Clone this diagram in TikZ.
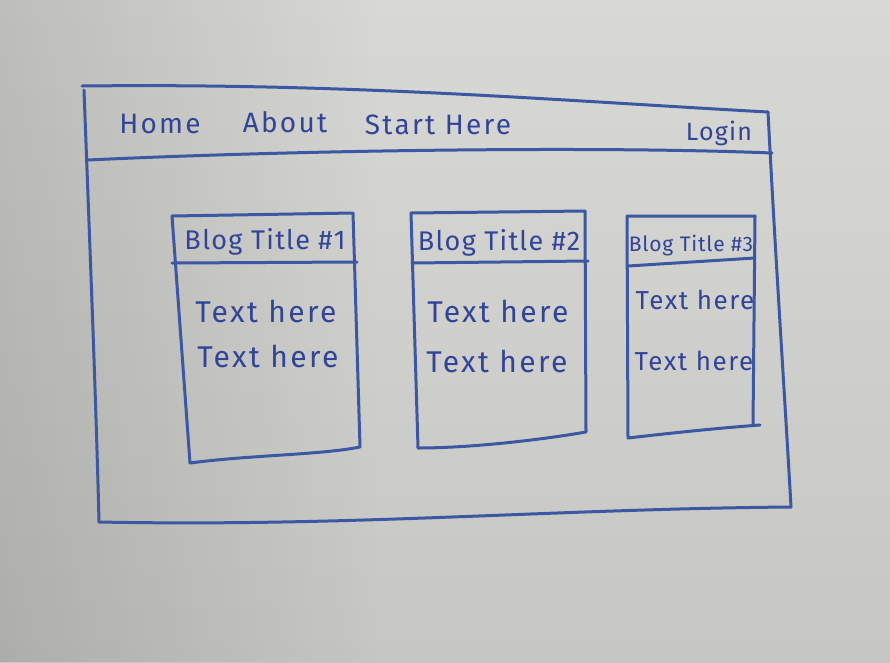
\documentclass[tikz,border=0pt]{standalone}
\usepackage{fontspec}
\setmainfont{Fira Sans}
\usetikzlibrary{fadings}
\definecolor{ink}{HTML}{3C58A4}
\definecolor{inkt}{HTML}{32449A}
\definecolor{bgTop}{HTML}{D8D8D4}
\definecolor{bgMid}{HTML}{E2E2DE}
\definecolor{bgBot}{HTML}{C6C6C2}
\tikzfading[name=fadeleft, left color=transparent!0, right color=transparent!100]
\begin{document}
\begin{tikzpicture}[x=1pt,y=-1pt,
  pen/.style={draw=ink, line width=3pt, line cap=round, line join=round},
  navtext/.style={text=inkt, inner sep=0pt,
    font=\fontsize{28}{30}\selectfont\addfontfeature{LetterSpace=8}},
  cardtitle/.style={text=inkt, inner sep=0pt,
    font=\fontsize{27}{29}\selectfont\addfontfeature{LetterSpace=5}},
  cardtext/.style={text=inkt, inner sep=0pt,
    font=\fontsize{30}{32}\selectfont\addfontfeature{LetterSpace=8}},
  smalltitle/.style={text=inkt, inner sep=0pt,
    font=\fontsize{21}{23}\selectfont\addfontfeature{LetterSpace=4}},
  smalltext/.style={text=inkt, inner sep=0pt,
    font=\fontsize{26}{28}\selectfont\addfontfeature{LetterSpace=6}}]
  % paper background: light band across the upper middle, darker towards the bottom and left
  \useasboundingbox (0,0) rectangle (890,662);
  \shade[top color=bgTop, middle color=bgMid, bottom color=bgBot] (0,0) rectangle (890,662);
  \fill[black, opacity=0.12, path fading=fadeleft] (0,0) rectangle (380,662);

  % page frame
  \coordinate (tl) at (82,86);
  \coordinate (tr) at (768,112);
  \coordinate (br) at (791,507);
  \coordinate (bl) at (99,522);
  \draw[pen] (tl) .. controls (350,83) and (550,100) .. (tr);
  \draw[pen] (tr) .. controls (775,250) and (785,400) .. (br);
  \draw[pen] (bl) .. controls (350,527) and (550,509) .. (br);
  \draw[pen] (84,90) .. controls (90,250) and (96,400) .. (bl);
  % navigation bar divider
  \draw[pen] (88,160) .. controls (300,150) and (600,146) .. (772,153);

  % navigation labels
  \node[navtext] (home)  at (160,124) {Home};
  \node[navtext] (about) at (285,122) {About};
  \node[navtext] (start) at (438,125) {Start Here};
  \node[navtext, font=\fontsize{25}{27}\selectfont\addfontfeature{LetterSpace=5}] (login) at (719,133) {Login};

  % card 1
  \draw[pen] (172,216) -- (353,213) -- (360,447)
             .. controls (320,455) and (250,455) .. (190,463) -- cycle;
  \draw[pen] (172,263) -- (357,262);
  \node[cardtitle] (t1)  at (265,242) {Blog Title \#1};
  \node[cardtext]  (a1)  at (266,311) {Text here};
  \node[cardtext]  (b1)  at (268,356) {Text here};

  % card 2
  \draw[pen] (411,213) -- (585,211) -- (586,432)
             .. controls (540,440) and (470,448) .. (418,448) -- cycle;
  \draw[pen] (412,263) -- (588,261);
  \node[cardtitle] (t2)  at (499,243) {Blog Title \#2};
  \node[cardtext]  (a2)  at (498,311) {Text here};
  \node[cardtext]  (b2)  at (497,361) {Text here};

  % card 3
  \draw[pen] (627,216) -- (755,216) -- (753,425);
  \draw[pen] (627,216) -- (628,438) .. controls (680,432) and (720,428) .. (760,425);
  \draw[pen] (628,266) -- (755,258);
  \node[smalltitle] (t3) at (691,246) {Blog Title \#3};
  \node[smalltext]  (a3) at (695,300) {Text here};
  \node[smalltext]  (b3) at (694,361) {Text here};
\end{tikzpicture}
\end{document}
